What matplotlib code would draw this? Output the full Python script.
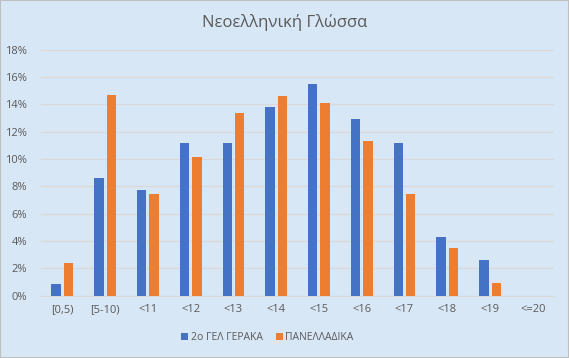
import numpy as np
import matplotlib.pyplot as plt
from matplotlib.ticker import PercentFormatter
from matplotlib.patches import Rectangle

plt.rcParams['font.family'] = ['Open Sans', 'DejaVu Sans']

categories = ['[0,5)', '[5-10)', '<11', '<12', '<13', '<14', '<15', '<16', '<17', '<18', '<19', '<=20']
school = [0.86, 8.63, 7.73, 11.17, 11.17, 13.80, 15.49, 12.93, 11.17, 4.29, 2.61, 0.0]
national = [2.41, 14.70, 7.44, 10.15, 13.37, 14.60, 14.10, 11.32, 7.44, 3.49, 0.93, 0.0]
series_names = ['2ο ΓΕΛ ΓΕΡΑΚΑ', 'ΠΑΝΕΛΛΑΔΙΚΑ']
yticks = np.arange(0, 19, 2)

blue = '#4472C4'
orange = '#ED7D31'
text_col = '#595959'
bg = '#d8e7f6'

fig = plt.figure(figsize=(5.69, 3.58), dpi=100)
fig.patch.set_facecolor(bg)
fig.patches.append(Rectangle((0, 0), 1, 1, transform=fig.transFigure,
                             fill=False, edgecolor='#bfbfbf', linewidth=1.5))

ax = fig.add_axes([0.072, 0.174, 0.902, 0.687])
ax.set_facecolor('none')

x = np.arange(len(categories))
w = 0.22
gap = 0.07
ax.bar(x - (w + gap) / 2, school, w, color=blue, label=series_names[0], zorder=3)
ax.bar(x + (w + gap) / 2, national, w, color=orange, label=series_names[1], zorder=3)

ax.set_xlim(-0.5, len(categories) - 0.5)
ax.set_ylim(0, 18)
ax.set_yticks(yticks)
ax.yaxis.set_major_formatter(PercentFormatter(decimals=0))
ax.grid(axis='y', color='#d9d9d9', linewidth=1, zorder=0)
ax.set_xticks(x)
ax.set_xticklabels(categories)
ax.tick_params(axis='both', length=0, labelsize=8, colors=text_col)
ax.tick_params(axis='y', pad=10)
ax.tick_params(axis='x', pad=6)
for s in ['top', 'right', 'left']:
    ax.spines[s].set_visible(False)
ax.spines['bottom'].set_color('#d9d9d9')

fig.text(0.5, 0.938, 'Νεοελληνική Γλώσσα', ha='center', va='center',
         fontsize=12, color=text_col)

fig.legend(loc='center', bbox_to_anchor=(0.47, 0.058), ncol=2, frameon=False,
           fontsize=7.5, handlelength=0.65, handleheight=0.65, handletextpad=0.25,
           columnspacing=1.3, labelcolor=text_col)

fig.savefig('out.png', dpi=100, facecolor=bg)
